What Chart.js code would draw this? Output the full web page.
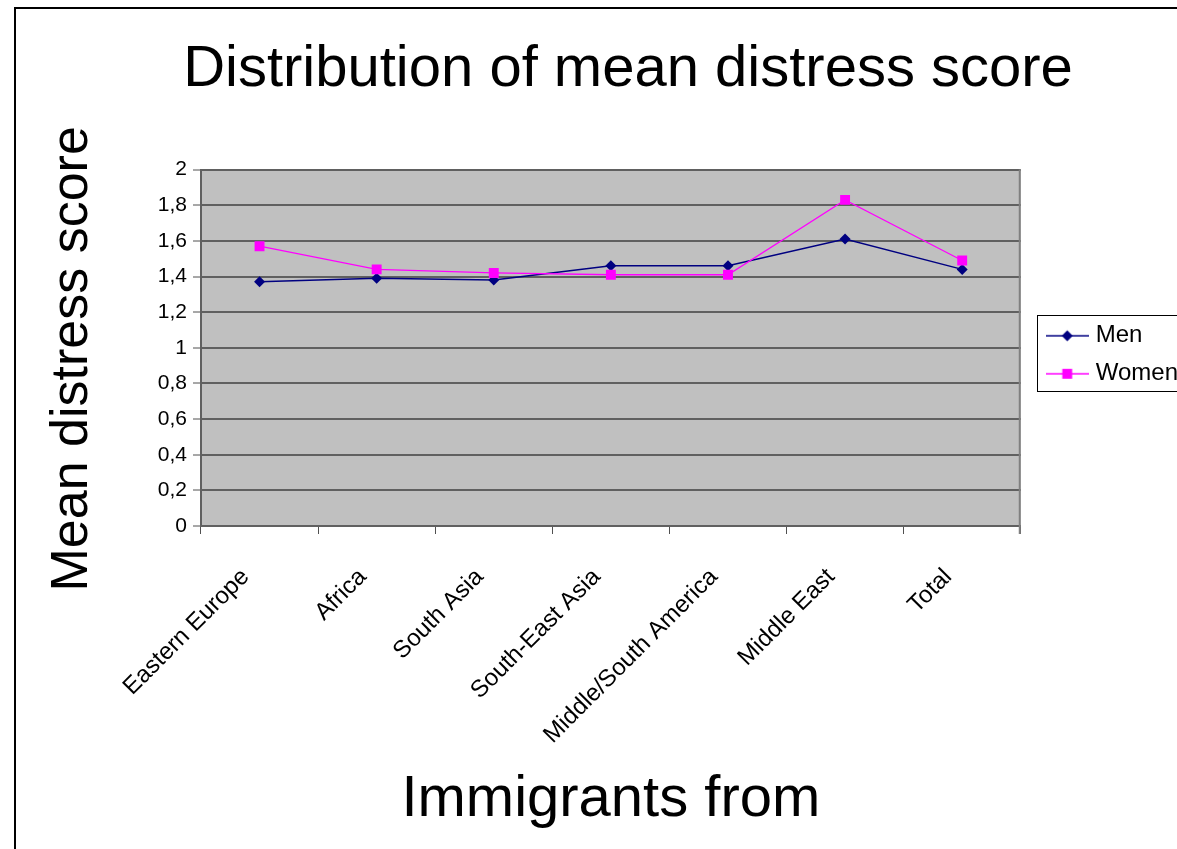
<!DOCTYPE html>
<html>
<head>
<meta charset="utf-8">
<script src="https://cdn.jsdelivr.net/npm/chart.js@4.4.1/dist/chart.umd.min.js"></script>
<style>
  html, body { margin: 0; padding: 0; background: #fff; overflow: hidden; width: 1177px; height: 849px; }
  #frame { position: absolute; left: 14px; top: 7px; width: 1400px; height: 1000px;
           border-left: 2px solid #000; border-top: 2px solid #000; }
  #wrap { position: absolute; left: 0; top: 0; width: 1200px; height: 849px; }
</style>
</head>
<body>
<div id="frame"></div>
<div id="wrap"><canvas id="chart" width="1200" height="849"></canvas></div>
<script>
// Categories and mean scores per group
const regions = ['Eastern Europe', 'Africa', 'South Asia', 'South-East Asia', 'Middle/South America', 'Middle East', 'Total'];
const menScores = [1.37, 1.39, 1.38, 1.46, 1.46, 1.61, 1.44];
const womenScores = [1.57, 1.44, 1.42, 1.41, 1.41, 1.83, 1.49];
const seriesNames = ['Men', 'Women'];
const yTickLabels = ['0', '0,2', '0,4', '0,6', '0,8', '1', '1,2', '1,4', '1,6', '1,8', '2'];
const chartTitle = 'Distribution of mean distress score';
const xTitle = 'Immigrants from';
const yTitle = 'Mean distress score';

const FONT = "'Liberation Sans', Arial, Helvetica, sans-serif";
const MEN_COLOR = '#000080';
const WOMEN_COLOR = '#ff00ff';
const PLOT_BG = '#c0c0c0';
const GRID = '#606060';

const PAD_LEFT = 40;
const PLOT_LEFT = 201;
const PLOT_BOTTOM = 526;
const CANVAS_H = 849;
const TITLE_CENTER_X = 628;
const Y_TITLE_SHIFT = 11;

// Legend symbol: short line with the series marker in its middle
function legendSymbol(color, shape, radius, lineWidth) {
  const c = document.createElement('canvas');
  c.width = 43; c.height = 16;
  const g = c.getContext('2d');
  g.strokeStyle = color;
  g.lineWidth = lineWidth;
  g.beginPath(); g.moveTo(0, 8); g.lineTo(43, 8); g.stroke();
  g.fillStyle = color;
  Chart.helpers.drawPoint(g, { pointStyle: shape, radius: radius, borderWidth: 0, rotation: 0 }, 21.5, 8);
  return c;
}

const symbols = [
  legendSymbol(MEN_COLOR, 'rectRot', 5.5, 1.5),
  legendSymbol(WOMEN_COLOR, 'rect', 7, 1.3)
];

// Grey plot area, right border, placement of title/legend and framed legend
const plotFrame = {
  id: 'plotFrame',
  afterLayout(chart) {
    const t = chart.titleBlock;
    if (t) { const dx = TITLE_CENTER_X - (t.left + t.right) / 2; t.left += dx; t.right += dx; }
    const l = chart.legend;
    if (l) { const dx = 16, dy = 7; l.left += dx; l.right += dx; l.top += dy; l.bottom += dy; }
    const ys = chart.scales.y;
    if (ys && !ys._shiftedTitle) {
      const drawTitle = ys.drawTitle.bind(ys);
      ys.drawTitle = function () {
        const ctx = this.ctx;
        ctx.save();
        ctx.translate(0, Y_TITLE_SHIFT);
        drawTitle();
        ctx.restore();
      };
      ys._shiftedTitle = true;
    }
  },
  beforeDraw(chart) {
    const { ctx, chartArea: a } = chart;
    ctx.save();
    ctx.fillStyle = PLOT_BG;
    ctx.fillRect(a.left, a.top, a.right - a.left, a.bottom - a.top);
    ctx.restore();
  },
  beforeDatasetsDraw(chart) {
    const { ctx, chartArea: a } = chart;
    ctx.save();
    ctx.strokeStyle = '#808080';
    ctx.lineWidth = 2;
    ctx.beginPath();
    ctx.moveTo(a.right - 1, a.top);
    ctx.lineTo(a.right - 1, a.bottom + 8);
    ctx.stroke();
    ctx.restore();
  },
  afterDraw(chart) {
    const l = chart.legend;
    if (!l || !l.legendHitBoxes || !l.legendHitBoxes.length) return;
    const boxes = l.legendHitBoxes;
    const top = boxes[0].top - 9;
    const last = boxes[boxes.length - 1];
    const bottom = last.top + last.height + 5;
    const { ctx } = chart;
    ctx.save();
    ctx.strokeStyle = '#000';
    ctx.lineWidth = 1;
    ctx.strokeRect(Math.round(l.left) + 0.5, Math.round(top) + 0.5, 400, Math.round(bottom - top));
    ctx.restore();
  }
};

new Chart(document.getElementById('chart'), {
  type: 'line',
  data: {
    labels: regions,
    datasets: [
      {
        label: seriesNames[0],
        data: menScores,
        borderColor: MEN_COLOR,
        backgroundColor: MEN_COLOR,
        borderWidth: 1.5,
        pointStyle: 'rectRot',
        pointRadius: 5.5,
        pointBorderWidth: 0,
        tension: 0,
        order: 1
      },
      {
        label: seriesNames[1],
        data: womenScores,
        borderColor: WOMEN_COLOR,
        backgroundColor: WOMEN_COLOR,
        borderWidth: 1.3,
        pointStyle: 'rect',
        pointRadius: 7,
        pointBorderWidth: 0,
        tension: 0,
        order: 0
      }
    ]
  },
  options: {
    responsive: false,
    animation: false,
    devicePixelRatio: 1,
    layout: { padding: { left: PAD_LEFT, right: 28, top: 0, bottom: 0 } },
    plugins: {
      tooltip: { enabled: false },
      title: {
        display: true,
        text: chartTitle,
        color: '#000',
        font: { family: FONT, size: 58, weight: 'normal', lineHeight: 1.2 },
        padding: { top: 35, bottom: 65 }
      },
      legend: {
        display: true,
        position: 'right',
        fullSize: false,
        align: 'center',
        labels: {
          usePointStyle: true,
          pointStyleWidth: 33,
          padding: 14,
          color: '#000',
          font: { family: FONT, size: 24 },
          generateLabels(chart) {
            return chart.data.datasets.map((ds, i) => ({
              text: ds.label,
              pointStyle: symbols[i],
              fillStyle: ds.borderColor,
              strokeStyle: ds.borderColor,
              lineWidth: 0,
              hidden: false,
              datasetIndex: i
            }));
          }
        }
      }
    },
    scales: {
      x: {
        offset: true,
        grid: { offset: true, drawOnChartArea: false, drawTicks: true, tickLength: 8, color: '#505050', lineWidth: 1 },
        border: { display: true, color: GRID, width: 2 },
        ticks: {
          autoSkip: false, minRotation: 45, maxRotation: 45,
          padding: 29, labelOffset: -14,
          color: '#000', font: { family: FONT, size: 24 }
        },
        title: {
          display: true, text: xTitle, color: '#000',
          font: { family: FONT, size: 58, lineHeight: 1.2 },
          padding: { top: 0, bottom: 14 }
        },
        afterFit(scale) { scale.height = CANVAS_H - PLOT_BOTTOM; }
      },
      y: {
        min: 0, max: 2,
        ticks: {
          stepSize: 0.2,
          padding: 6,
          color: '#000',
          font: { family: FONT, size: 21 },
          callback: (value, index) => yTickLabels[index]
        },
        grid: { color: GRID, lineWidth: 2, tickLength: 8, tickColor: '#505050', tickWidth: 1 },
        border: { display: true, color: GRID, width: 2 },
        title: {
          display: true, text: yTitle, color: '#000',
          font: { family: FONT, size: 52, lineHeight: 1 },
          padding: { top: 7, bottom: 0 }
        },
        afterFit(scale) { scale.width = PLOT_LEFT - PAD_LEFT; }
      }
    }
  },
  plugins: [plotFrame]
});
</script>
</body>
</html>
